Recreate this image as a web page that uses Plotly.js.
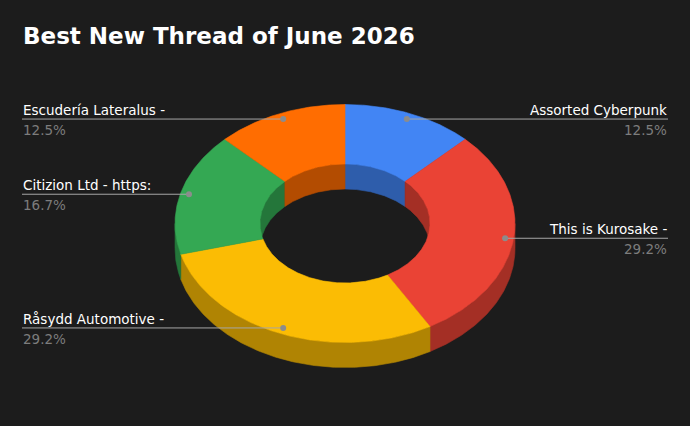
<!DOCTYPE html>
<html>
<head>
<meta charset="utf-8">
<script src="https://cdn.plot.ly/plotly-3.0.1.min.js"></script>
<style>
html,body{margin:0;padding:0;background:#1c1c1c;}
#chart{width:690px;height:426px;}
</style>
</head>
<body>
<div id="chart"></div>
<script>
// ---- data ----
var categories = ["Assorted Cyberpunk", "This is Kurosake -", "Råsydd Automotive -", "Citizion Ltd - https:", "Escudería Lateralus -"];
var votes = [3, 7, 7, 4, 3];
var colors = ["#4285F4", "#EA4335", "#FBBC04", "#34A853", "#FF6D01"];
var chartTitle = "Best New Thread of June 2026";

// ---- geometry (pixel-like units on hidden axes) ----
var W = 690, H = 426;
var CX = 345, CY = 223.5, RX = 170, RY = 119, HOLE = 0.5, DEPTH = 25;
var BG = "#1c1c1c";

function shade(hex, f) {
  var n = parseInt(hex.slice(1), 16);
  var r = Math.round(((n >> 16) & 255) * f), g = Math.round(((n >> 8) & 255) * f), b = Math.round((n & 255) * f);
  return "rgb(" + r + "," + g + "," + b + ")";
}
function rad(d) { return d * Math.PI / 180; }
function arc(a, b, k, dy) { // degrees clockwise from top
  var xs = [], ys = [], n = Math.max(2, Math.ceil(Math.abs(b - a) * 2));
  for (var i = 0; i <= n; i++) {
    var t = rad(a + (b - a) * i / n);
    xs.push(CX + k * RX * Math.sin(t));
    ys.push(CY + dy - k * RY * Math.cos(t));
  }
  return [xs, ys];
}
function band(a, b, k1, dy1, k2, dy2) {
  var p = arc(a, b, k1, dy1), q = arc(b, a, k2, dy2);
  return [p[0].concat(q[0], [p[0][0]]), p[1].concat(q[1], [p[1][0]])];
}
function clip(a, b, lo, hi) {
  var s = Math.max(a, lo), e = Math.min(b, hi);
  return e > s ? [s, e] : null;
}
function poly(xy, color) {
  return {type: "scatter", mode: "lines", x: xy[0], y: xy[1], fill: "toself",
    fillcolor: color, line: {color: color, width: 0.6}, hoverinfo: "skip", showlegend: false};
}

var total = votes.reduce(function (s, v) { return s + v; }, 0);
var slices = [], acc = 0;
for (var i = 0; i < votes.length; i++) {
  var a = acc / total * 360, b = (acc + votes[i]) / total * 360;
  slices.push({a: a, b: b, m: (a + b) / 2});
  acc += votes[i];
}

var traces = [];
// inner walls (far half of the hole)
slices.forEach(function (s, i) {
  [[0, 90], [270, 360]].forEach(function (r) {
    var c = clip(s.a, s.b, r[0], r[1]);
    if (c) traces.push(poly(band(c[0], c[1], HOLE, 0, HOLE, DEPTH), shade(colors[i], 0.7)));
  });
});
// outer walls (near half)
slices.forEach(function (s, i) {
  var c = clip(s.a, s.b, 90, 270);
  if (c) traces.push(poly(band(c[0], c[1], 1, 0, 1, DEPTH), shade(colors[i], 0.7)));
});
// top faces
slices.forEach(function (s, i) {
  traces.push(poly(band(s.a, s.b, 1, 0, HOLE, 0), colors[i]));
});

// leader lines & labels
var annotations = [];
var LEFT = 22, RIGHT = 668;
slices.forEach(function (s, i) {
  var t = rad(s.m);
  var dx = CX + 0.95 * RX * Math.sin(t), dy = CY - 0.95 * RY * Math.cos(t);
  var left = s.m > 180;
  var ex = left ? LEFT : RIGHT;
  traces.push({type: "scatter", mode: "lines", x: [ex, dx], y: [dy, dy],
    line: {color: "#a6a6a6", width: 1}, hoverinfo: "skip", showlegend: false});
  traces.push({type: "scatter", mode: "markers", x: [dx], y: [dy],
    marker: {color: "#8c8c8c", size: 6}, hoverinfo: "skip", showlegend: false});
  annotations.push({x: ex, y: dy, xref: "x", yref: "y", text: categories[i], showarrow: false,
    xanchor: left ? "left" : "right", yanchor: "bottom", yshift: 0, borderpad: 0,
    font: {family: "DejaVu Sans", size: 13.5, color: "#ffffff"}});
  annotations.push({x: ex, y: dy, xref: "x", yref: "y",
    text: (votes[i] / total * 100).toFixed(1) + "%", showarrow: false,
    xanchor: left ? "left" : "right", yanchor: "top", yshift: -2, borderpad: 0,
    font: {family: "DejaVu Sans", size: 13.5, color: "#7d7d7d"}});
});
annotations.push({x: LEFT, y: 50, xref: "x", yref: "y", text: "<b>" + chartTitle + "</b>",
  showarrow: false, xanchor: "left", yanchor: "bottom", borderpad: 0,
  font: {family: "DejaVu Sans", size: 23, color: "#ffffff"}});

var layout = {
  width: W, height: H,
  margin: {l: 0, r: 0, t: 0, b: 0},
  paper_bgcolor: BG, plot_bgcolor: BG,
  xaxis: {range: [0, W], visible: false, fixedrange: true},
  yaxis: {range: [H, 0], visible: false, fixedrange: true},
  annotations: annotations,
  hovermode: false, showlegend: false
};
Plotly.newPlot("chart", traces, layout, {staticPlot: true, displayModeBar: false});
</script>
</body>
</html>
